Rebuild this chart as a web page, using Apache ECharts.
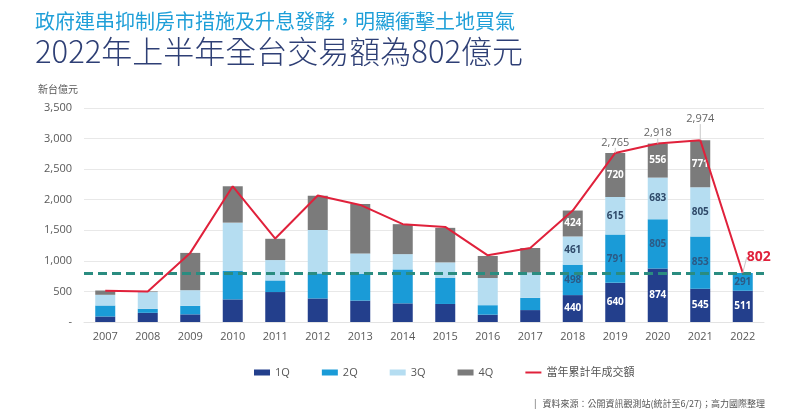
<!DOCTYPE html>
<html><head><meta charset="utf-8">
<script src="https://cdn.jsdelivr.net/npm/echarts@6/dist/echarts.min.js"></script>
<style>html,body{margin:0;padding:0;background:#fff}#c{width:792px;height:419px}</style>
</head><body><div id="c"></div>
<script>
const years = ['2007','2008','2009','2010','2011','2012','2013','2014','2015','2016','2017','2018','2019','2020','2021','2022'];
const q1 = [90,150,125,370,490,385,350,305,295,120,195,440,640,874,545,511];
const q2 = [180,65,140,465,190,410,435,555,430,155,200,498,791,805,853,291];
const q3 = [175,275,255,790,333,710,337,250,250,445,415,461,615,683,805,null];
const q4 = [70,10,610,595,348,560,807,490,565,360,400,424,720,556,771,null];
const totals = [510,500,1130,2220,1365,2070,1915,1600,1555,1090,1210,1823,2765,2918,2974,802];
const labelYears = ['2018','2019','2020','2021','2022'];
const totalLabelYears = ['2019','2020','2021'];
const refLevel = 802;
const yTicks = [0,500,1000,1500,2000,2500,3000,3500];

const FONT = "'Open Sans', 'Noto Sans CJK TC', sans-serif";
const colors = ['#233F8C','#1A9BD7','#B5DDF1','#7B7B7B'];
const labelColors = ['#ffffff','#2C5A85','#2F4A6A','#ffffff'];

function barData(arr, qi){
  return arr.map((v,i)=>{
    if (v==null) return v;
    const show = labelYears.includes(years[i]);
    return {value:v, label:{show:show, color:labelColors[qi], fontSize:10, fontWeight:'bold', fontFamily:FONT, formatter:'{c}'}};
  });
}
const names = ['1Q','2Q','3Q','4Q'];
const series = [q1,q2,q3,q4].map((arr,qi)=>({
  name:names[qi], type:'bar', stack:'t', barWidth:20,
  itemStyle:{color:colors[qi]},
  label:{show:false, position:'inside'},
  data:barData(arr,qi), z:2
}));
series.push({
  name:'當年累計年成交額', type:'line', symbol:'circle', symbolSize:0.1, showSymbol:true,
  lineStyle:{color:'#E0213B', width:2}, itemStyle:{color:'#E0213B'},
  z:5,
  labelLine:{show:true, lineStyle:{color:'#C8C8C8', width:1}},
  labelLayout:(p)=>{
    const y = years[p.dataIndex];
    if (y==='2021') return {dy:-11};
    if (y==='2022') return {dx:2, dy:-16};
    return {};
  },
  data: totals.map((v,i)=>{
    const y = years[i];
    if (totalLabelYears.includes(y)) {
      return {value:v, label:{show:true, position:'top', distance:5, color:'#666', fontSize:11, fontFamily:FONT,
        formatter:(p)=>p.value.toLocaleString('en-US')}};
    }
    if (y==='2022') {
      return {value:v, label:{show:true, position:'right', distance:2, color:'#E0213B', fontSize:14, fontWeight:'bold', fontFamily:FONT, formatter:'{c}'}};
    }
    return v;
  }),
  markLine:{silent:true, symbol:'none', label:{show:false},
    lineStyle:{color:'#2A8C80', type:[9,5], width:3},
    data:[{yAxis:refLevel}]}
});

const chart = echarts.init(document.getElementById('c'));
chart.setOption({
  animation:false,
  textStyle:{fontFamily:FONT},
  title:[
    {text:'政府連串抑制房市措施及升息發酵，明顯衝擊土地買氣', left:30, top:6,
     textStyle:{color:'#1F9FD8', fontSize:20, fontWeight:'normal', fontFamily:"'Noto Sans CJK TC', sans-serif"}},
    {text:'2022年上半年全台交易額為802億元', left:30, top:31,
     textStyle:{color:'#2E3F75', fontSize:31, fontWeight:300, fontFamily:"'Noto Sans CJK TC', sans-serif"}},
    {text:'|   資料來源：公開資訊觀測站(統計至6/27)；高力國際整理', right:22, top:394,
     textStyle:{color:'#555', fontSize:9, fontWeight:'normal', fontFamily:"'Noto Sans CJK TC', sans-serif"}}
  ],
  legend:{left:249, top:362, itemWidth:16, itemHeight:6, itemGap:32, icon:'rect',
    textStyle:{color:'#555', fontSize:11, fontFamily:FONT},
    data:[{name:'1Q'},{name:'2Q'},{name:'3Q'},{name:'4Q'},
      {name:'當年累計年成交額', icon:'path://M0,0 M16,6 M0,2 L16,2 L16,4 L0,4 Z', itemStyle:{color:'#E0213B'}}]
  },
  grid:{left:84, right:28, top:108, bottom:97, containLabel:false},
  xAxis:{type:'category', data:years,
    axisTick:{show:false}, axisLine:{lineStyle:{color:'#E3E3E3'}},
    axisLabel:{color:'#595959', fontSize:11, margin:9, fontFamily:FONT}},
  yAxis:{type:'value', min:yTicks[0], max:yTicks[yTicks.length-1], interval:500,
    name:'新台億元', nameLocation:'end', nameGap:14,
    nameTextStyle:{color:'#595959', fontSize:10, align:'right', padding:[0,6,0,0], fontFamily:"'Noto Sans CJK TC', sans-serif"},
    axisLine:{show:false}, axisTick:{show:false},
    splitLine:{lineStyle:{color:'#E8E8E8'}},
    axisLabel:{color:'#595959', fontSize:11, margin:12, fontFamily:FONT,
      formatter:(v)=> v===0 ? '-' : v.toLocaleString('en-US')}},
  series:series
});
</script></body></html>
